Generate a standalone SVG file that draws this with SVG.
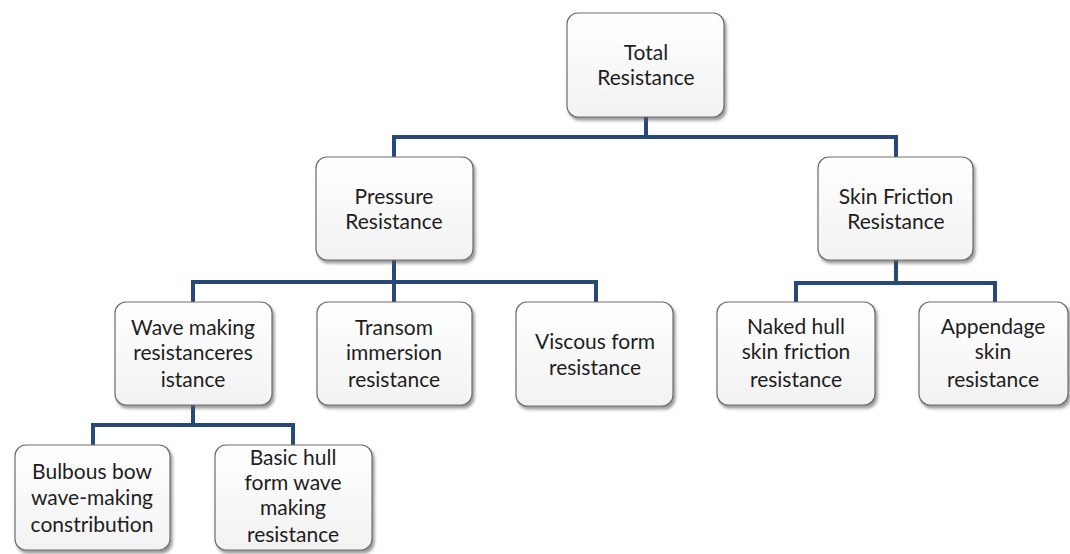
<svg xmlns="http://www.w3.org/2000/svg" width="1070" height="554" viewBox="0 0 1070 554">
<defs>
<filter id="sh" x="-10%" y="-10%" width="125%" height="125%">
<feDropShadow dx="2" dy="3" stdDeviation="1.5" flood-color="#555" flood-opacity="0.6"/>
</filter>
<linearGradient id="g" x1="0" y1="0" x2="0" y2="1">
<stop offset="0" stop-color="#ffffff"/>
<stop offset="1" stop-color="#f2f2f2"/>
</linearGradient>
</defs>
<style>
.box{fill:url(#g);stroke:#6e6e6e;stroke-width:1.2;filter:url(#sh)}
.t{font-family:Lato,"Open Sans",sans-serif;font-size:21px;fill:#1e1e1e;text-anchor:middle}
.c{fill:none;stroke:#24497a;stroke-width:4;stroke-linejoin:miter}
</style>
<rect width="1070" height="554" fill="#ffffff"/>
<g id="connectors">
<path class="c" d="M646 117 V137 M394 157 V137 H896 V157"/>
<path class="c" d="M394 260 V302 M193 302 V282 H596 V302"/>
<path class="c" d="M896 260 V283 M796 302 V283 H995 V302"/>
<path class="c" d="M193 405 V425 M93 445 V425 H293 V445"/>
</g>
<g id="total">
<rect class="box" x="567" y="13" width="157" height="104" rx="11"/>
<text class="t" x="646" y="60">Total</text>
<text class="t" x="646" y="85">Resistance</text>
</g>
<g id="pressure">
<rect class="box" x="316" y="157" width="157" height="103" rx="11"/>
<text class="t" x="394" y="204">Pressure</text>
<text class="t" x="394" y="229">Resistance</text>
</g>
<g id="skin">
<rect class="box" x="818" y="157" width="155" height="103" rx="11"/>
<text class="t" x="896" y="204">Skin Friction</text>
<text class="t" x="896" y="229">Resistance</text>
</g>
<g id="wave">
<rect class="box" x="115" y="302" width="157" height="103" rx="11"/>
<text class="t" x="193" y="335">Wave making</text>
<text class="t" x="193" y="360">resistanceres</text>
<text class="t" x="193" y="387">istance</text>
</g>
<g id="transom">
<rect class="box" x="317" y="302" width="155" height="103" rx="11"/>
<text class="t" x="394" y="335">Transom</text>
<text class="t" x="394" y="360">immersion</text>
<text class="t" x="394" y="387">resistance</text>
</g>
<g id="viscous">
<rect class="box" x="516" y="302" width="157" height="104" rx="11"/>
<text class="t" x="595" y="349">Viscous form</text>
<text class="t" x="595" y="375">resistance</text>
</g>
<g id="naked">
<rect class="box" x="717" y="302" width="158" height="103" rx="11"/>
<text class="t" x="796" y="334">Naked hull</text>
<text class="t" x="796" y="359">skin friction</text>
<text class="t" x="796" y="387">resistance</text>
</g>
<g id="appendage">
<rect class="box" x="919" y="302" width="149" height="103" rx="11"/>
<text class="t" x="993" y="334">Appendage</text>
<text class="t" x="993" y="359">skin</text>
<text class="t" x="993" y="387">resistance</text>
</g>
<g id="bulbous">
<rect class="box" x="15" y="445" width="155" height="105" rx="11"/>
<text class="t" x="92" y="479">Bulbous bow</text>
<text class="t" x="92" y="505">wave-making</text>
<text class="t" x="92" y="532">constribution</text>
</g>
<g id="basic">
<rect class="box" x="215" y="445" width="157" height="105" rx="11"/>
<text class="t" x="293" y="465">Basic hull</text>
<text class="t" x="293" y="490">form wave</text>
<text class="t" x="293" y="515">making</text>
<text class="t" x="293" y="542">resistance</text>
</g>
</svg>
